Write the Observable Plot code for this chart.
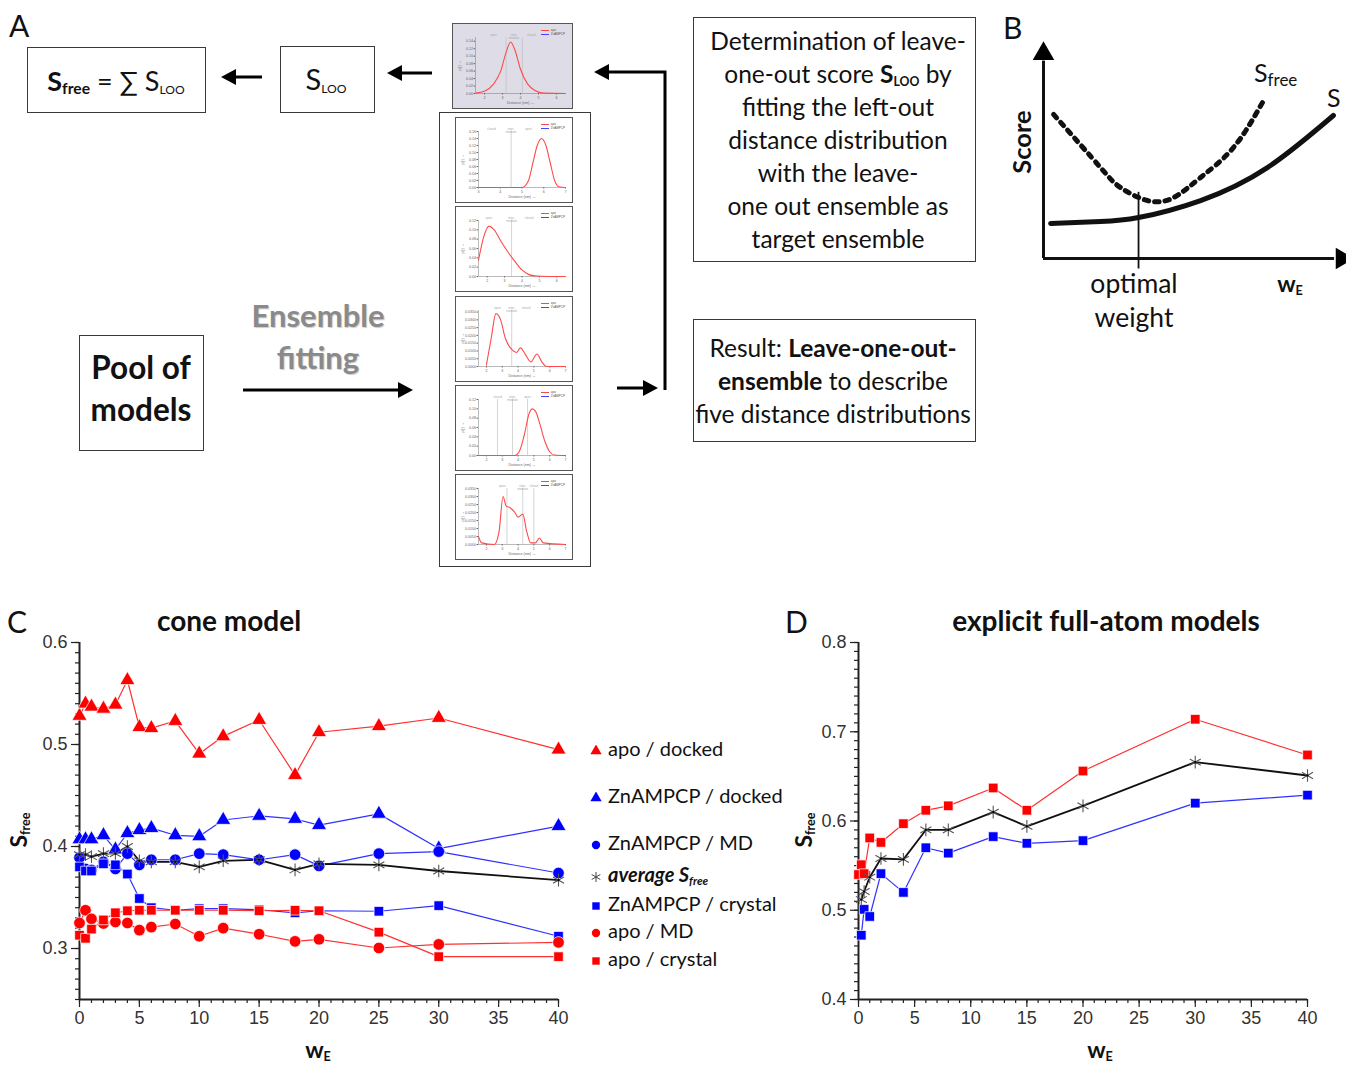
<!DOCTYPE html>
<html><head><meta charset="utf-8">
<script src="https://cdn.jsdelivr.net/npm/d3@7"></script>
<script src="https://cdn.jsdelivr.net/npm/@observablehq/plot@0.6"></script>
<style>
body{margin:0;background:#fff;}
#root{position:relative;width:1346px;height:1065px;overflow:hidden;font-family:Lato,"Open Sans",sans-serif;color:#111;background:#fff;}
.t{position:absolute;white-space:nowrap;line-height:1;}
.c{transform:translate(-50%,-50%);text-align:center;}
.box{position:absolute;border:1.6px solid #3a3a3a;box-sizing:border-box;background:#fff;}
.mbox{position:absolute;border:1.4px solid #555;box-sizing:border-box;background:#fff;}
.pl{position:absolute;}
sub{font-size:58%;vertical-align:-0.25em;line-height:0;}
.leg{position:absolute;left:590px;font-size:20px;white-space:nowrap;line-height:1;}
.leg svg{vertical-align:middle;margin-right:6px;}
.mleg{position:absolute;right:7px;top:5px;font-size:3px;color:#555;line-height:1.3;font-family:"Liberation Sans",Arial;}
.mleg i{display:inline-block;width:8px;height:1px;vertical-align:middle;margin-right:2px;}
</style>
</head><body>
<div id="root">
  <!-- Panel A -->
  <div class="t" style="left:9px;top:10px;font-size:30px;">A</div>
  <div class="box" style="left:27px;top:47px;width:179px;height:66px;"></div>
  <div class="t c" style="left:116px;top:80px;font-size:27px;"><b>S<sub>free</sub></b> = ∑ S<sub style="font-size:45%">LOO</sub></div>
  <div class="box" style="left:280px;top:46px;width:95px;height:67px;"></div>
  <div class="t c" style="left:326px;top:78px;font-size:29px;">S<sub style="font-size:42%">LOO</sub></div>

  <div class="box" style="left:439px;top:112px;width:152px;height:455px;"></div>

  <div class="box" style="left:693px;top:17px;width:283px;height:245px;"></div>
  <div class="t c" style="left:838px;top:139px;font-size:24.5px;line-height:33px;">Determination of leave-<br>one-out score <b>S<sub style="font-size:50%">LOO</sub></b> by<br>fitting the left-out<br>distance distribution<br>with the leave-<br>one out ensemble as<br>target ensemble</div>
  <div class="box" style="left:693px;top:319px;width:283px;height:123px;"></div>
  <div class="t c" style="left:833px;top:380px;font-size:24.5px;line-height:33px;">Result: <b>Leave-one-out-</b><br><b>ensemble</b> to describe<br>five distance distributions</div>

  <div class="box" style="left:79px;top:335px;width:125px;height:116px;"></div>
  <div class="t c" style="left:141px;top:388px;font-size:31.5px;font-weight:bold;line-height:42px;">Pool of<br>models</div>
  <div class="t c" style="left:318px;top:336px;font-size:31px;font-weight:bold;line-height:42px;color:#8a8a8a;text-shadow:1px 1px 1px #ccc;">Ensemble<br>fitting</div>

  <svg class="pl" style="left:0;top:0" width="1000" height="600">
    <g fill="#000" stroke="#000" stroke-width="3">
      <line x1="262" y1="77" x2="232" y2="77"/><path d="M221,77 L236,69 L236,85 Z" stroke="none"/>
      <line x1="432" y1="73" x2="398" y2="73"/><path d="M387,73 L402,65 L402,81 Z" stroke="none"/>
      <line x1="243" y1="390" x2="402" y2="390"/><path d="M413,390 L398,382 L398,398 Z" stroke="none"/>
      <line x1="617" y1="388" x2="647" y2="388"/><path d="M658,388 L643,380 L643,396 Z" stroke="none"/>
      <polyline points="665,390 665,72 605,72" fill="none"/><path d="M594,72 L609,64 L609,80 Z" stroke="none"/>
    </g>
  </svg>

  <!-- Panel B -->
  <div class="t" style="left:1003px;top:12px;font-size:30px;">B</div>
  <div id="plotB" class="pl" style="left:1000px;top:20px;"></div>
  <div class="t c" style="left:1022px;top:142px;font-size:25.5px;font-weight:bold;transform:translate(-50%,-50%) rotate(-90deg);">Score</div>
  <div class="t" style="left:1254px;top:60px;font-size:25px;">S<sub style="font-size:68%">free</sub></div>
  <div class="t" style="left:1327px;top:85px;font-size:25px;">S</div>
  <div class="t c" style="left:1134px;top:300px;font-size:26.5px;line-height:34px;">optimal<br>weight</div>
  <div class="t c" style="left:1290px;top:283px;font-size:23px;font-weight:bold;">w<sub style="font-size:55%">E</sub></div>

  <!-- Panel C -->
  <div class="t" style="left:7px;top:606px;font-size:30px;">C</div>
  <div class="t c" style="left:229px;top:620px;font-size:28px;font-weight:bold;">cone model</div>
  <div id="plotC" class="pl" style="left:0;top:600px;"></div>
  <div class="t c" style="left:18px;top:830px;font-size:23px;font-weight:bold;transform:translate(-50%,-50%) rotate(-90deg);">S<sub style="font-size:55%">free</sub></div>
  <div class="t c" style="left:318px;top:1049px;font-size:23px;font-weight:bold;">w<sub style="font-size:55%">E</sub></div>
  <div id="legendC"></div>

  <!-- Panel D -->
  <div class="t" style="left:785px;top:606px;font-size:30px;">D</div>
  <div class="t c" style="left:1106px;top:620px;font-size:28px;font-weight:bold;">explicit full-atom models</div>
  <div id="plotD" class="pl" style="left:790px;top:600px;"></div>
  <div class="t c" style="left:803px;top:830px;font-size:23px;font-weight:bold;transform:translate(-50%,-50%) rotate(-90deg);">S<sub style="font-size:55%">free</sub></div>
  <div class="t c" style="left:1100px;top:1049px;font-size:23px;font-weight:bold;">w<sub style="font-size:55%">E</sub></div>
</div>
<script>
// ---------- Panel C data (cone model) ----------
const wC = [0, 0.5, 1, 2, 3, 4, 5, 6, 8, 10, 12, 15, 18, 20, 25, 30, 40];
const apoDocked  = [0.528,0.540,0.537,0.535,0.539,0.563,0.517,0.516,0.523,0.491,0.508,0.524,0.470,0.512,0.518,0.526,0.495];
const znDocked   = [0.407,0.407,0.407,0.411,0.397,0.413,0.416,0.418,0.411,0.410,0.426,0.430,0.427,0.421,0.432,0.398,0.420];
const znMD       = [0.389,0.378,0.377,0.385,0.378,0.393,0.382,0.387,0.387,0.393,0.392,0.387,0.392,0.381,0.393,0.395,0.374];
const avgC       = [0.392,0.392,0.390,0.393,0.393,0.400,0.386,0.385,0.385,0.380,0.386,0.387,0.377,0.383,0.382,0.376,0.367];
const znCrystal  = [0.380,0.376,0.376,0.383,0.382,0.373,0.349,0.340,0.3375,0.339,0.339,0.338,0.335,0.337,0.3365,0.342,0.312];
const apoMD      = [0.325,0.3375,0.329,0.3245,0.326,0.325,0.318,0.321,0.324,0.312,0.320,0.314,0.307,0.309,0.3005,0.304,0.306];
const apoCrystal = [0.313,0.310,0.319,0.328,0.335,0.337,0.3375,0.3375,0.3375,0.3375,0.3375,0.337,0.3375,0.337,0.316,0.292,0.292];
const yTicksC = [0.3, 0.4, 0.5, 0.6];
const xTicks = [0, 5, 10, 15, 20, 25, 30, 35, 40];

// ---------- Panel D data (explicit full-atom models) ----------
const wD = [0, 0.25, 0.5, 1, 2, 4, 6, 8, 12, 15, 20, 30, 40];
const apoCrystalD = [0.540,0.551,0.541,0.581,0.576,0.597,0.612,0.617,0.637,0.612,0.656,0.714,0.674];
const znCrystalD  = [null,0.472,0.501,0.493,0.541,0.520,0.570,0.564,0.5825,0.575,0.578,0.620,0.629];
const avgD        = [null,0.512,0.521,0.537,0.558,0.557,0.590,0.590,0.610,0.594,0.617,0.666,0.651];
const yTicksD = [0.4, 0.5, 0.6, 0.7, 0.8];

// ---------- Panel B schematic curves ----------
const curveS     = [[0.24,1.67],[1.92,1.76],[3.2,1.95],[5.29,2.76],[7.54,4.33],[9.76,6.81]];
const curveSfree = [[0.34,6.86],[1.92,4.33],[2.59,3.38],[3.5,2.76],[4.38,2.9],[5.29,3.86],[6.4,5.29],[7.41,7.52]];
const optimalW = 3.2;

// ---------- Panel A mini distance distributions ----------
const miniData = [
  {xdom:[1.5,6.5], ymax:0.15, bounds:[3.2,4.1], regions:[["open",2.5],["inter-\nmediate",3.65],["closed",4.6]],
   pts:[[1.5,0.001],[2.0,0.006],[2.5,0.025],[2.9,0.06],[3.2,0.11],[3.45,0.138],[3.7,0.115],[4.0,0.065],[4.4,0.025],[4.8,0.008],[5.3,0.001],[6.5,0]]},
  {xdom:[3,7], ymax:0.16, bounds:[4.5], regions:[["closed",3.6],["inter-\nmediate",4.5],["open",5.3]],
   pts:[[3,0],[5.0,0],[5.3,0.02],[5.5,0.07],[5.7,0.12],[5.9,0.14],[6.1,0.12],[6.3,0.07],[6.5,0.02],[6.7,0.002],[7,0]]},
  {xdom:[1.5,6.5], ymax:0.12, bounds:[3.4], regions:[["open",2.1],["inter-\nmediate",3.4],["closed",4.4]],
   pts:[[1.5,0.035],[1.8,0.085],[2.1,0.108],[2.4,0.1],[2.8,0.075],[3.2,0.052],[3.6,0.032],[4.0,0.014],[4.4,0.004],[4.8,0.001],[5.5,0],[6.5,0]]},
  {xdom:[1.5,7], ymax:0.036, bounds:[3.6], regions:[["open",2.7],["inter-\nmediate",3.6],["closed",4.5]],
   pts:[[2.0,0.001],[2.3,0.018],[2.6,0.034],[2.9,0.03],[3.2,0.018],[3.6,0.011],[3.9,0.009],[4.15,0.012],[4.45,0.008],[4.8,0.003],[5.2,0.008],[5.5,0.003],[5.8,0],[7,0]]},
  {xdom:[1.5,7], ymax:0.12, bounds:[2.7,3.65,4.6], regions:[["closed",2.7],["inter-\nmediate",3.65],["open",4.6]],
   pts:[[1.5,0],[3.8,0],[4.1,0.01],[4.4,0.045],[4.7,0.09],[4.9,0.1],[5.1,0.095],[5.4,0.065],[5.7,0.03],[6.0,0.008],[6.3,0.001],[7,0]]},
  {xdom:[1.5,7], ymax:0.035, bounds:[3.3,4.3,5.0], regions:[["open",3.0],["inter-\nmediate",4.3],["closed",5.0]],
   pts:[[1.5,0.005],[1.7,0.001],[2.5,0],[2.8,0.008],[3.05,0.03],[3.25,0.024],[3.5,0.023],[3.8,0.02],[4.0,0.017],[4.3,0.019],[4.55,0.008],[4.8,0.001],[5.1,0.001],[5.35,0.004],[5.6,0.001],[7,0]]}
];
const miniPos = [[452,23,121,86],[455,117,118,86],[455,206,118,86],[455,296,118,86],[455,385,118,86],[455,474,118,86]];

const RED = "#ff0000", BLUE = "#0000ff";

function scoreChart({w, series, yDomain, yMajor, width, marginLeft, marginRight}) {
  const lo = Math.round(yDomain[0]*100), hi = Math.round(yDomain[1]*100);
  const marks = [
    Plot.axisY({ticks: d3.range(lo, hi+1).map(d => d/100), tickSize: 4, tickFormat: () => "", label: null, strokeWidth: 1.2}),
    Plot.axisY({ticks: yMajor, tickSize: 8, tickPadding: 4, tickFormat: d => d.toFixed(1), label: null, strokeWidth: 1.2, fontSize: 18, fill: "#333"}),
    Plot.axisX({ticks: d3.range(0, 41), tickSize: 4, tickFormat: () => "", label: null, strokeWidth: 1.2}),
    Plot.axisX({ticks: xTicks, tickSize: 8, tickPadding: 4, label: null, strokeWidth: 1.2, fontSize: 18, fill: "#333"}),
    Plot.ruleX([0], {strokeWidth: 2}),
    Plot.ruleY([yDomain[0]], {strokeWidth: 2})
  ];
  const rowsOf = s => w.map((x, i) => ({w: x, v: s.v[i]})).filter(d => d.v != null);
  for (const s of series) {
    marks.push(Plot.line(rowsOf(s), {x: "w", y: "v", stroke: s.line, strokeWidth: s.symbol === "asterisk" ? 1.8 : 1.2}));
  }
  for (const s of series) {
    if (s.symbol === "asterisk") {
      marks.push(Plot.dot(rowsOf(s), {x: "w", y: "v", symbol: "asterisk", stroke: "#555", strokeWidth: 1.1, r: s.r}));
      marks.push(Plot.dot(rowsOf(s), {x: "w", y: "v", fill: "#000", r: 1.1}));
    } else {
      marks.push(Plot.dot(rowsOf(s), {x: "w", y: "v", symbol: s.symbol, fill: s.color, stroke: "#fff", strokeWidth: 0.7, r: s.r}));
    }
  }
  return Plot.plot({
    width, height: 465, marginLeft, marginRight, marginTop: 42, marginBottom: 66,
    x: {domain: [0, 40]}, y: {domain: yDomain},
    style: {fontFamily: "'Liberation Sans', Arial, sans-serif", fontSize: "18px", color: "#222", background: "transparent", overflow: "visible"},
    marks
  });
}

const seriesC = [
  {name: "apo / docked", v: apoDocked, color: RED, line: "#ff3030", symbol: "triangle", r: 5.6},
  {name: "ZnAMPCP / docked", v: znDocked, color: BLUE, line: "#3030ff", symbol: "triangle", r: 5.6},
  {name: "ZnAMPCP / MD", v: znMD, color: BLUE, line: "#3030ff", symbol: "circle", r: 5.8},
  {name: "average", v: avgC, color: "#000", line: "#111", symbol: "asterisk", r: 6},
  {name: "ZnAMPCP / crystal", v: znCrystal, color: BLUE, line: "#3030ff", symbol: "square", r: 5.4},
  {name: "apo / MD", v: apoMD, color: RED, line: "#ff3030", symbol: "circle", r: 5.8},
  {name: "apo / crystal", v: apoCrystal, color: RED, line: "#ff3030", symbol: "square", r: 5.4}
];
const seriesD = [
  {name: "apo / crystal", v: apoCrystalD, color: RED, line: "#ff3030", symbol: "square", r: 5.4},
  {name: "ZnAMPCP / crystal", v: znCrystalD, color: BLUE, line: "#3030ff", symbol: "square", r: 5.4},
  {name: "average", v: avgD, color: "#000", line: "#111", symbol: "asterisk", r: 6}
];

document.getElementById("plotC").append(scoreChart({w: wC, series: seriesC, yDomain: [0.25, 0.6], yMajor: yTicksC, width: 600, marginLeft: 79, marginRight: 42}));
document.getElementById("plotD").append(scoreChart({w: wD, series: seriesD, yDomain: [0.4, 0.8], yMajor: yTicksD, width: 556, marginLeft: 68, marginRight: 39}));

// Legend C
const legendItems = [
  ["triangle", RED, "apo / docked", 749],
  ["triangle", BLUE, "ZnAMPCP / docked", 796],
  ["circle", BLUE, "ZnAMPCP / MD", 843],
  ["asterisk", "#444", "<b><i>average S<sub>free</sub></i></b>", 875],
  ["square", BLUE, "ZnAMPCP / crystal", 904],
  ["circle", RED, "apo / MD", 931],
  ["square", RED, "apo / crystal", 959]
];
const legendC = document.getElementById("legendC");
for (const [sym, col, label, y] of legendItems) {
  const div = document.createElement("div");
  div.className = "leg";
  div.style.top = (y - 11) + "px";
  const path = d3.symbol(sym === "triangle" ? d3.symbolTriangle : sym === "circle" ? d3.symbolCircle : sym === "square" ? d3.symbolSquare : d3.symbolAsterisk, sym === "asterisk" ? 70 : 55)();
  const svg = sym === "asterisk"
    ? `<svg width="12" height="12" viewBox="-6 -6 12 12"><path d="${path}" stroke="${col}" stroke-width="1" fill="none"/></svg>`
    : `<svg width="12" height="12" viewBox="-6 -6 12 12"><path d="${path}" fill="${col}"/></svg>`;
  div.innerHTML = svg + label;
  legendC.append(div);
}

// Panel B
const axisHeads = [{x: 0, y: 9.75, rot: 0}, {x: 10.05, y: 0, rot: 90}];
document.getElementById("plotB").append(Plot.plot({
  width: 346, height: 320, marginLeft: 43, marginRight: 6, marginTop: 28, marginBottom: 82,
  x: {domain: [0, 10], axis: null}, y: {domain: [0, 10], axis: null},
  style: {background: "transparent", overflow: "visible"},
  marks: [
    Plot.ruleX([0], {y1: 0, y2: 9.4, strokeWidth: 3}),
    Plot.ruleY([0], {x1: 0, x2: 9.8, strokeWidth: 3}),
    Plot.dot(axisHeads, {x: "x", y: "y", rotate: "rot", symbol: "triangle", r: 8, fill: "#000"}),
    Plot.ruleX([optimalW], {y1: -0.5, y2: 3.15, strokeWidth: 1.8}),
    Plot.line(curveSfree, {x: d => d[0], y: d => d[1], curve: "natural", strokeWidth: 5, strokeDasharray: "4.5 6"}),
    Plot.line(curveS, {x: d => d[0], y: d => d[1], curve: "natural", strokeWidth: 5})
  ]
}));

// Panel A mini charts
const root = document.getElementById("root");
miniData.forEach((m, i) => {
  const [l, t, w, h] = miniPos[i];
  const box = document.createElement("div");
  box.className = "mbox";
  Object.assign(box.style, {left: l + "px", top: t + "px", width: w + "px", height: h + "px", background: i === 0 ? "#dedce6" : "#fff"});
  const p = Plot.plot({
    width: w - 3, height: h - 3, marginLeft: 22, marginRight: 6, marginTop: 13, marginBottom: 14,
    style: {fontSize: "3.4px", fontFamily: "'Liberation Sans', Arial, sans-serif", background: "transparent", color: "#666"},
    x: {domain: m.xdom, tickSize: 1.5, tickPadding: 1, ticks: 5},
    y: {domain: [0, m.ymax], tickSize: 1.5, tickPadding: 1, ticks: 7},
    marks: [
      Plot.axisX({tickSize: 1.5, tickPadding: 1, ticks: 5, label: "Distance (nm)", labelAnchor: "center", labelOffset: 10, fontSize: 3.6}),
      Plot.axisY({tickSize: 1.5, tickPadding: 1, ticks: 7, tickFormat: m.ymax < 0.05 ? ".4f" : ".2f", label: "p(r)", labelAnchor: "center", labelOffset: 17, fontSize: 3.6}),
      Plot.ruleX(m.bounds, {stroke: "#bbb", strokeWidth: 0.6}),
      Plot.text(m.regions, {x: d => d[1], text: d => d[0], frameAnchor: "top", dy: -4, fill: "#aaa", fontSize: 3, lineHeight: 1.1}),
      Plot.ruleY([0], {stroke: "#777", strokeWidth: 0.5}),
      Plot.ruleX([m.xdom[0]], {stroke: "#777", strokeWidth: 0.5}),
      Plot.line(m.pts, {x: d => d[0], y: d => d[1], curve: "monotone-x", stroke: "#ff4a4a", strokeWidth: 1.1})
    ]
  });
  p.style.position = "absolute"; p.style.left = "0"; p.style.top = "0";
  box.append(p);
  const leg = document.createElement("div");
  leg.className = "mleg";
  leg.innerHTML = `<div><i style="background:#f44"></i>apo</div><div><i style="background:#44f"></i>ZnAMPCP</div>`;
  box.append(leg);
  root.append(box);
});
</script>
</body></html>
